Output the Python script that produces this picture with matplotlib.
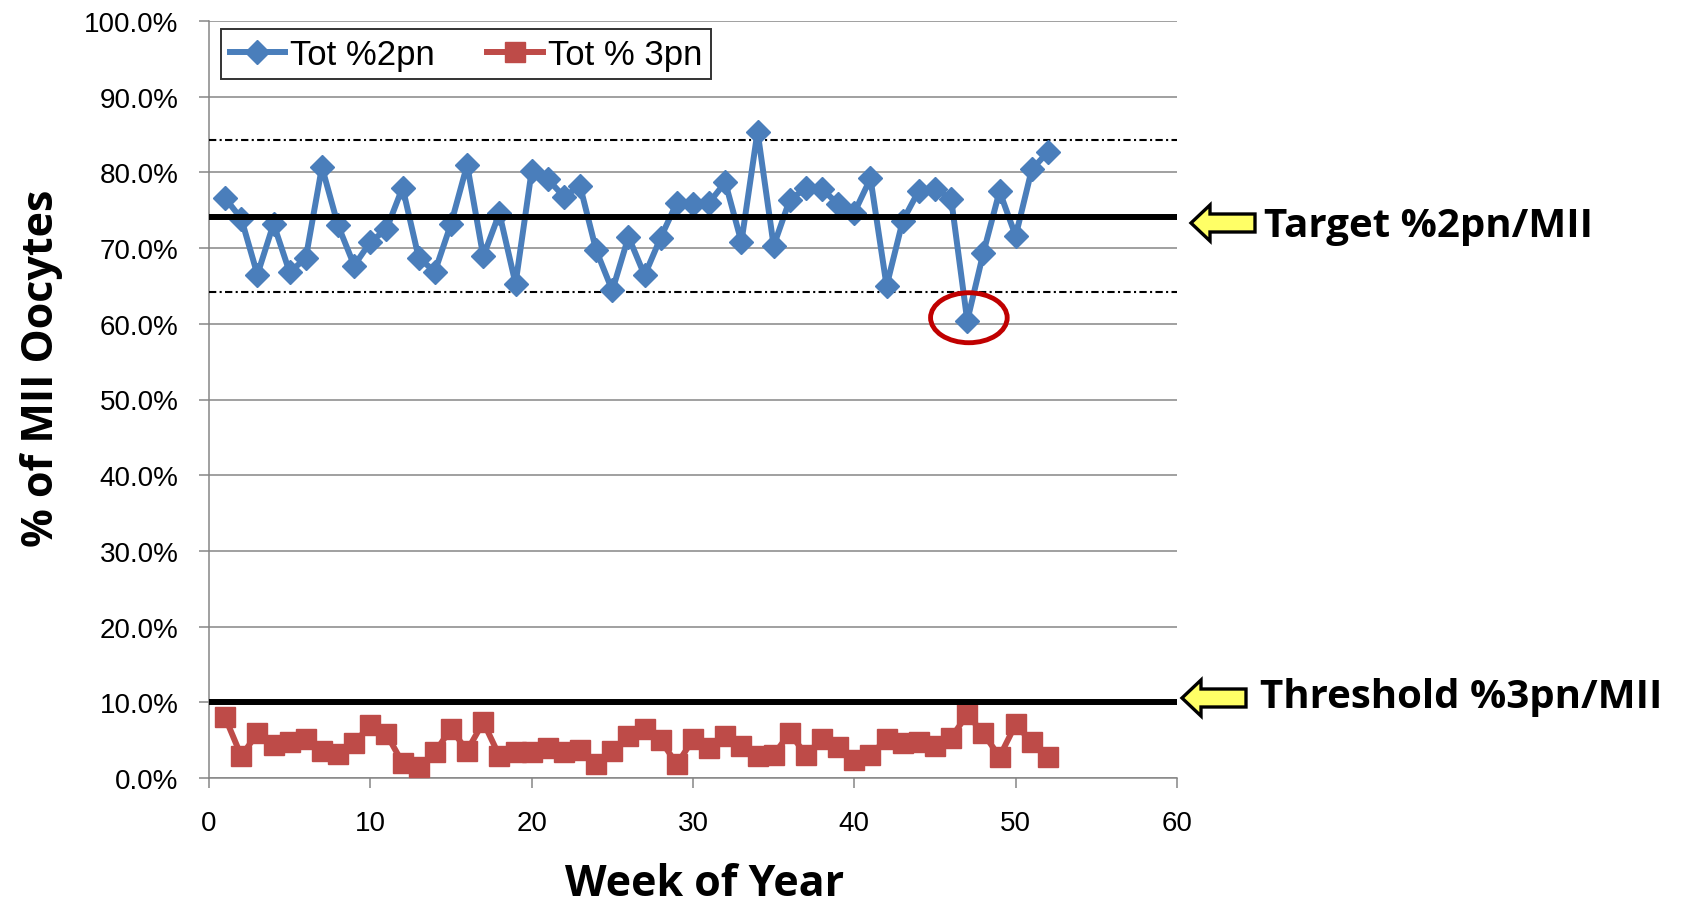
#!/usr/bin/env python

# Weekly %2pn and %3pn of MII oocytes with target / threshold lines

import matplotlib
matplotlib.use('Agg')
import matplotlib.pyplot as plt
from matplotlib.patches import Ellipse, Polygon
from matplotlib.ticker import PercentFormatter, MultipleLocator

# Data (% of MII oocytes)
weeks = list(range(1, 53))
pct_2pn = [76.6, 73.9, 66.5, 73.2, 66.8, 68.7, 80.7, 73.0, 67.7, 70.8,
           72.5, 78.0, 68.7, 66.9, 73.2, 81.0, 68.9, 74.6, 65.3, 80.2,
           79.1, 76.8, 78.2, 69.7, 64.4, 71.5, 66.4, 71.4, 76.0, 75.8,
           76.0, 78.7, 70.8, 85.4, 70.3, 76.4, 77.9, 77.8, 75.8, 74.7,
           79.2, 65.0, 73.6, 77.6, 77.8, 76.5, 60.4, 69.4, 77.5, 71.6,
           80.4, 82.7]
pct_3pn = [8.0, 2.9, 5.9, 4.4, 4.7, 5.1, 3.6, 3.2, 4.6, 7.0,
           5.8, 2.0, 1.5, 3.4, 6.5, 3.6, 7.4, 2.9, 3.5, 3.4,
           3.9, 3.4, 3.7, 1.8, 3.6, 5.6, 6.5, 5.0, 1.8, 5.1,
           4.0, 5.5, 4.2, 2.9, 3.1, 5.9, 3.1, 5.1, 4.1, 2.4,
           3.1, 5.1, 4.6, 4.8, 4.2, 5.3, 8.4, 5.9, 2.8, 7.1,
           4.7, 2.8]
target_2pn = 74.1
upper_limit = 84.3
lower_limit = 64.2
threshold_3pn = 10.0

series_labels = ['Tot %2pn', 'Tot % 3pn']
target_text = 'Target %2pn/MII'
threshold_text = 'Threshold %3pn/MII'

W, H = 1686, 904
def fig_xy(x, y):
    # pixel position (from top-left) -> figure fraction
    return (x / W, 1 - y / H)

fig = plt.figure(figsize=(W / 100, H / 100), dpi=100, facecolor='white')
plt.rcParams['font.family'] = ['Liberation Sans', 'DejaVu Sans']
grey = '#868686'
bold_font = ['Open Sans', 'DejaVu Sans']

ax = fig.add_axes([209 / W, 1 - 779 / H, (1177 - 209) / W, (779 - 22) / H])
ax.set_xlim(0, 60)
ax.set_ylim(0, 100)
ax.xaxis.set_major_locator(MultipleLocator(10))
ax.yaxis.set_major_locator(MultipleLocator(10))
ax.yaxis.set_major_formatter(PercentFormatter(100, decimals=1))
ax.yaxis.grid(True, color=grey, lw=1.1)
ax.set_axisbelow(True)
for s in ['top', 'right']:
    ax.spines[s].set_visible(False)
for s in ['left', 'bottom']:
    ax.spines[s].set_color(grey)
    ax.spines[s].set_linewidth(1.1)
ax.tick_params(axis='both', direction='out', length=7, width=1.1,
               color=grey, labelsize=20)
ax.tick_params(axis='y', pad=15)
ax.tick_params(axis='x', pad=16)

# Series
ax.plot(weeks, pct_2pn, color='#4A7EBB', lw=4.3, marker='D', ms=12,
        mec='#4A7EBB', label=series_labels[0], zorder=5)
ax.plot(weeks, pct_3pn, color='#BE4B48', lw=4.3, marker='s', ms=14.5,
        mec='#BE4B48', label=series_labels[1], zorder=5)

# Reference lines
ax.axhline(target_2pn, color='black', lw=4.3, zorder=7)
ax.axhline(threshold_3pn, color='black', lw=4.3, zorder=7)
for lim in (upper_limit, lower_limit):
    ax.axhline(lim, color='black', lw=1.5, ls=(0, (3.5, 1.6, 1, 1.6)), zorder=3)

# Circle the lowest week
i_min = pct_2pn.index(min(pct_2pn))
ax.add_patch(Ellipse((weeks[i_min] + 0.1, pct_2pn[i_min] + 0.4), width=4.75,
                     height=6.6, fill=False, ec='#C00000', lw=3.5, zorder=8))

leg = ax.legend(ncol=2, loc='upper left', bbox_to_anchor=fig_xy(221, 30),
                bbox_transform=fig.transFigure, borderaxespad=0,
                fontsize=25, frameon=True, fancybox=False, edgecolor='black',
                handlelength=1.6, handletextpad=0.15, columnspacing=1.5,
                borderpad=0.25)
leg.get_frame().set_linewidth(1.4)

# Axis titles
fig.text(*fig_xy(705, 896), 'Week of Year', fontsize=31, fontweight='bold',
         family=bold_font, ha='center', va='baseline')
fig.text(*fig_xy(53, 368), '% of MII Oocytes', fontsize=31, fontweight='bold',
         family=bold_font, ha='center', va='baseline', rotation=90,
         rotation_mode='anchor')

# Yellow arrows + annotations
def arrow(tip_x, tip_y):
    head_len, head_half, shaft_half, length = 19, 18, 9, 64
    pts = [(tip_x, tip_y), (tip_x + head_len, tip_y - head_half),
           (tip_x + head_len, tip_y - shaft_half), (tip_x + length, tip_y - shaft_half),
           (tip_x + length, tip_y + shaft_half), (tip_x + head_len, tip_y + shaft_half),
           (tip_x + head_len, tip_y + head_half)]
    fig.patches.append(Polygon([fig_xy(*p) for p in pts], closed=True,
                               transform=fig.transFigure, fc='#FFFF66',
                               ec='black', lw=2.4, joinstyle='miter'))

arrow(1191, 224)
arrow(1182, 699)
fig.text(*fig_xy(1264, 237), target_text, fontsize=29, fontweight='bold',
         family=bold_font, ha='left', va='baseline')
fig.text(*fig_xy(1260, 708), threshold_text, fontsize=29, fontweight='bold',
         family=bold_font, ha='left', va='baseline')

fig.savefig('out.png', dpi=100)
